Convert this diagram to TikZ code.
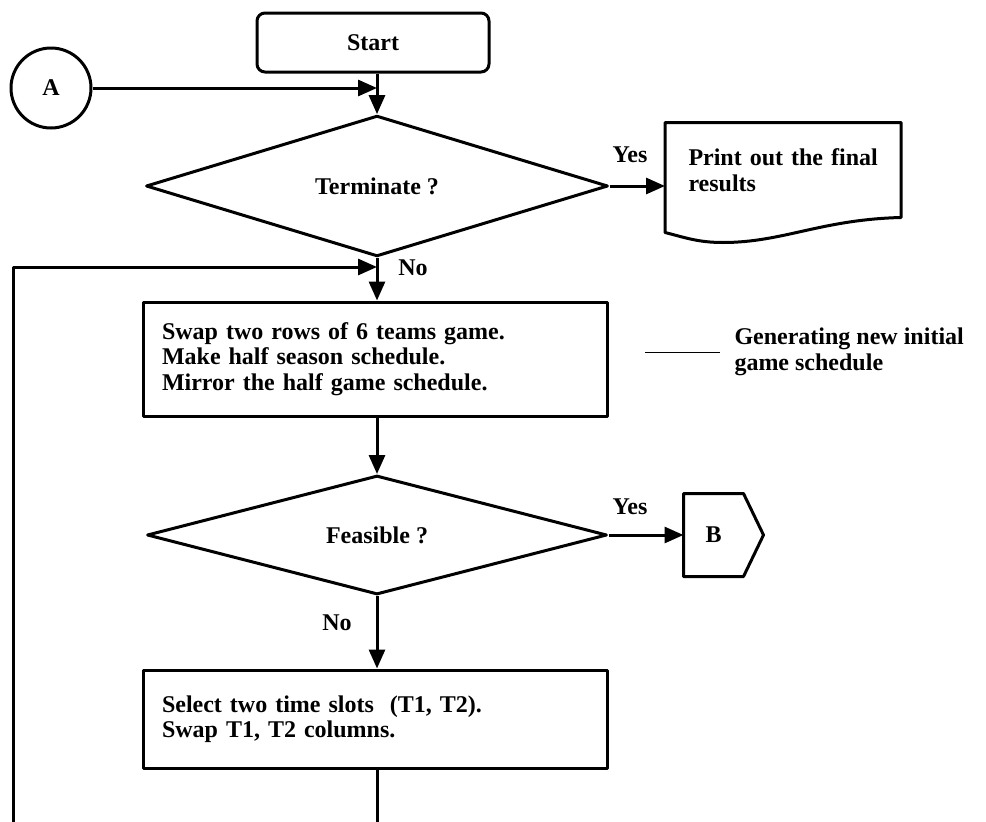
\documentclass[tikz,border=0pt]{standalone}
\usepackage{fontspec}
\setmainfont{Liberation Serif}
\usetikzlibrary{shapes.geometric,arrows.meta,calc}
\begin{document}
\begin{tikzpicture}[x=1pt,y=-1pt,
  line width=3pt, line join=round,
  every node/.style={font=\fontsize{24}{25.5}\selectfont\bfseries},
  arr/.style={-{Triangle[length=19pt,width=16pt]}},
  procbox/.style={draw, minimum width=464pt, text width=426pt, inner xsep=19pt, align=left},
  decision/.style={draw, diamond, inner sep=0pt},
  lbl/.style={inner sep=0pt},
]
\useasboundingbox (0,0) rectangle (986,822);

% nodes
\node[draw, rounded corners=8pt, minimum width=232pt, minimum height=59pt] (S) at (373,42.5) {Start};
\node[draw, circle, minimum size=80pt, inner sep=0pt] (A) at (51,88) {A};
\node[decision, minimum width=462pt, minimum height=114pt] (T) at (377,186) {Terminate ?};
\node[text width=211pt, inner xsep=0pt, minimum height=92pt, align=left, anchor=west] (D) at (687,170) {Print out the final\\results};
\node[procbox, minimum height=114pt] (R1) at (375,359) {Swap two rows of 6 teams game.\\Make half season schedule.\\Mirror the half game schedule.};
\node[decision, minimum width=460pt, minimum height=115pt] (F) at (377,535) {Feasible ?};
\node[minimum width=57pt, minimum height=80pt, inner sep=0pt] (B) at (713.5,535) {B};
\node[procbox, minimum height=98pt] (R2) at (375,719) {Select two time slots~~(T1, T2).\\Swap T1, T2 columns.};
\node[align=left, inner xsep=13pt, inner ysep=0pt, anchor=west] (G) at (720,352) {Generating new initial\\game schedule};

% labels
\node[lbl] (yes1) at (630,155) {Yes};
\node[lbl] (no1) at (413,268) {No};
\node[lbl] (yes2) at (630,507) {Yes};
\node[lbl] (no2) at (337,623) {No};

% coordinates
\coordinate (j1) at (377,88);
\coordinate (lb) at (13,822);
\coordinate (lt) at (13,267);
\coordinate (eb) at (377,822);
\coordinate (g1) at (645,352);
\coordinate (dnw) at ($(D.north west)+(-22,0)$);
\coordinate (dsw) at ($(D.south west)+(-22,0)$);

% document shape
\draw (dnw) -- (D.north east) -- (D.south east)
  .. controls +(-80,2) and +(60,0) .. ($(dsw)+(58,25)$)
  .. controls +(-25,0) and +(20,5) .. ($(dsw)+(0,15)$) -- cycle;

% off-page connector B
\draw (B.north west) -- (B.north east) -- ($(B.east)+(20,0)$) -- (B.south east) -- (B.south west) -- cycle;

% connectors
\draw[arr] (A) -- (j1);
\draw[arr] (j1 |- S.south) -- (T.north);
\draw[arr] (T.east) -- (T.east -| dnw);
\draw[arr] (lb) -- (lt) -- (lt -| T.south);
\draw[arr] (T.south) -- (T.south |- R1.north);
\draw[arr] (R1.south -| F.north) -- (F.north);
\draw[arr] (F.east) -- (F.east -| B.west);
\draw[arr] (F.south) -- (F.south |- R2.north);
\draw (R2.south -| eb) -- (eb);
\draw[line width=1pt] (g1) -- (G.west);
\end{tikzpicture}
\end{document}
